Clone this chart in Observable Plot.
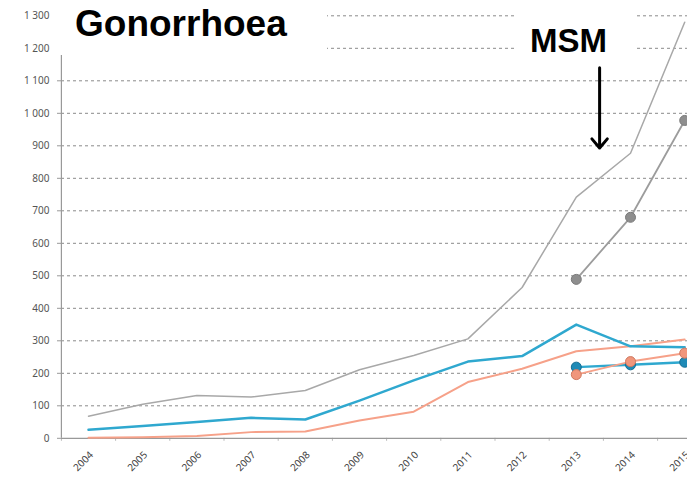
<!DOCTYPE html>
<html>
<head>
<meta charset="utf-8">
<script src="https://cdn.jsdelivr.net/npm/d3@7"></script>
<script src="https://cdn.jsdelivr.net/npm/@observablehq/plot@0.6"></script>
<style>
  html, body { margin: 0; padding: 0; background: #fff; overflow: hidden; }
  #wrap { position: relative; width: 687px; height: 479px; overflow: hidden; font-family: "Liberation Sans", Arial, sans-serif; }
  #wrap svg { position: absolute; left: 0; top: 0; }
  .box { position: absolute; background: #fff; color: #000; font-weight: bold; line-height: 1; white-space: nowrap; }
  #title { left: 55px; top: 0; width: 272px; height: 55px; font-size: 37px; }
  #title span { position: absolute; left: 20px; top: 5px; }
  #msm { left: 515px; top: 0; width: 122px; height: 60px; font-size: 33px; }
  #msm span { position: absolute; left: 15px; top: 24px; }
</style>
</head>
<body>
<div id="wrap">
  <div id="chart"></div>
  <div class="box" id="title"><span>Gonorrhoea</span></div>
  <div class="box" id="msm"><span>MSM</span></div>
</div>
<script>
const years = ["2004","2005","2006","2007","2008","2009","2010","2011","2012","2013","2014","2015"];
const totalAll   = [68, 105, 132, 127, 147, 211, 255, 306, 464, 742, 877, 1280];
const blueAll    = [26, 38, 50, 63, 58, 116, 178, 236, 253, 350, 283, 280];
const orangeAll  = [2, 3, 7, 19, 21, 55, 82, 173, 214, 268, 283, 304];
const msmYears   = ["2013","2014","2015"];
const totalMSM   = [489, 680, 978];
const blueMSM    = [219, 226, 234];
const orangeMSM  = [196, 236, 262];
const yTicks      = [0,100,200,300,400,500,600,700,800,900,1000,1100,1200,1300];
const yTickLabels = ["0","100","200","300","400","500","600","700","800","900","1 000","1 100","1 200","1 300"];
const arrowNote = [{x: 9.93, y1: 1140, y2: 893}];

const pos = y => years.indexOf(y) + 0.5;
const toRows = (vals, series, yrs = years) => vals.map((v, i) => ({x: pos(yrs[i]), y: v, series}));

const colors = {
  gray: "#a8a8a8", grayMSM: "#9c9c9c", grayDot: "#8e8e8e", grayDotStroke: "#7a7a7a",
  blue: "#2fa8cf", blueDot: "#1f8ab6", blueDotStroke: "#156d93",
  orange: "#f6a189", orangeDot: "#f0967c", orangeDotStroke: "#cf7960"
};

const boundaries = d3.range(0, years.length + 1);

const plot = Plot.plot({
  width: 687,
  height: 479,
  marginTop: 15.3,
  marginBottom: 41.2,
  marginLeft: 61,
  marginRight: 0,
  style: {background: "transparent", overflow: "hidden"},
  x: {type: "linear", domain: [0, years.length], range: [60.9, 60.9 + 54.2 * years.length]},
  y: {domain: [0, 1300]},
  marks: [
    Plot.gridY(yTicks.slice(1), {stroke: "#8a8a8a", strokeOpacity: 1, strokeDasharray: "3,3", strokeWidth: 1}),
    Plot.axisY(yTicks, {tickSize: 4, tickPadding: 8, tickFormat: (d, i) => yTickLabels[yTicks.indexOf(d)], fontSize: 10, fill: "#555", stroke: "#999", label: null}),
    Plot.axisX(boundaries, {tickSize: 3, tickFormat: () => "", stroke: "#bbb", label: null}),
    Plot.axisX(years.map(pos), {tickSize: 0, tickPadding: 15, tickRotate: -45, fontSize: 10, fill: "#444", dx: 3, tickFormat: d => years[Math.round(d - 0.5)], label: null}),
    Plot.ruleX([0], {stroke: "#999", strokeWidth: 1.2}),
    Plot.ruleY([0], {stroke: "#999", strokeWidth: 1.2}),
    Plot.line(toRows(totalAll, "total"), {x: "x", y: "y", stroke: colors.gray, strokeWidth: 1.5}),
    Plot.line(toRows(orangeAll, "orange"), {x: "x", y: "y", stroke: colors.orange, strokeWidth: 2}),
    Plot.line(toRows(blueAll, "blue"), {x: "x", y: "y", stroke: colors.blue, strokeWidth: 2.5}),
    Plot.line(toRows(totalMSM, "tm", msmYears), {x: "x", y: "y", stroke: colors.grayMSM, strokeWidth: 1.8}),
    Plot.dot(toRows(totalMSM, "tm", msmYears), {x: "x", y: "y", r: 5, fill: colors.grayDot, stroke: colors.grayDotStroke, strokeWidth: 1}),
    Plot.line(toRows(blueMSM, "bm", msmYears), {x: "x", y: "y", stroke: colors.blue, strokeWidth: 2.5}),
    Plot.line(toRows(orangeMSM, "om", msmYears), {x: "x", y: "y", stroke: colors.orange, strokeWidth: 2}),
    Plot.dot(toRows(blueMSM, "bm", msmYears), {x: "x", y: "y", r: 5, fill: colors.blueDot, stroke: colors.blueDotStroke, strokeWidth: 1}),
    Plot.dot(toRows(orangeMSM, "om", msmYears), {x: "x", y: "y", r: 5, fill: colors.orangeDot, stroke: colors.orangeDotStroke, strokeWidth: 1}),
    Plot.arrow(arrowNote, {x: "x", y1: "y1", y2: "y2", stroke: "#000", strokeWidth: 3, headLength: 6, headAngle: 80})
  ]
});
document.getElementById("chart").appendChild(plot);
</script>
</body>
</html>
